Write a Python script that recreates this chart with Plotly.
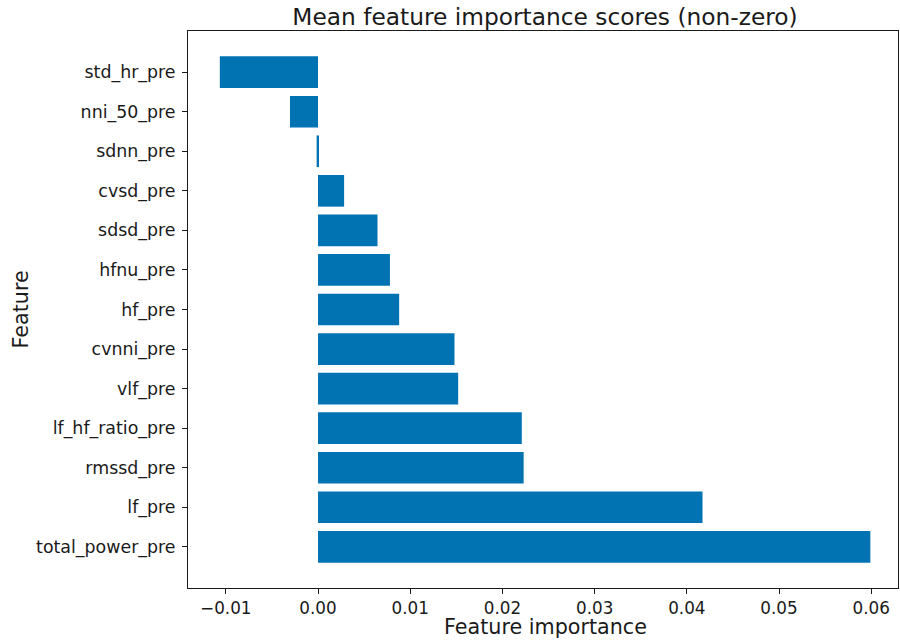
import plotly.graph_objects as go

features = ["total_power_pre", "lf_pre", "rmssd_pre", "lf_hf_ratio_pre", "vlf_pre",
            "cvnni_pre", "hf_pre", "hfnu_pre", "sdsd_pre", "cvsd_pre",
            "sdnn_pre", "nni_50_pre", "std_hr_pre"]
importance = [0.0599, 0.0417, 0.0223, 0.0221, 0.0152,
              0.0148, 0.0088, 0.0078, 0.00645, 0.00283,
              -0.00015, -0.00304, -0.01065]
x_ticks = [-0.01, 0.0, 0.01, 0.02, 0.03, 0.04, 0.05, 0.06]

FONT = "DejaVu Sans"
INK = "#1a1a1a"

W, H = 900, 644
L, R, T, B = 188, 2, 31, 56

fig = go.Figure()
fig.add_trace(go.Bar(
    x=importance, y=list(range(len(features))), orientation="h",
    width=0.8, marker=dict(color="#0173B2", line=dict(width=0)),
))

fig.update_layout(
    width=W, height=H,
    margin=dict(l=L, r=R, t=T, b=B),
    plot_bgcolor="white", paper_bgcolor="white",
    showlegend=False,
    font=dict(family=FONT, color=INK, size=17),
    title=dict(text="Mean feature importance scores (non-zero)",
               x=545 / W, xanchor="center",
               y=1 - 17 / H, yanchor="middle", automargin=False,
               font=dict(size=23.3, family=FONT, color=INK)),
    xaxis=dict(range=[-0.0141, 0.0629], tickvals=x_ticks, tickformat=".2f",
               showgrid=False, zeroline=False, automargin=False,
               showline=True, linecolor=INK, linewidth=1, mirror=True,
               ticks="outside", ticklen=5, tickcolor=INK, tickwidth=1,
               tickfont=dict(size=16.8)),
    yaxis=dict(range=[-1.04, 13.04], tickvals=list(range(len(features))), ticktext=features,
               showgrid=False, zeroline=False, automargin=False,
               showline=True, linecolor=INK, linewidth=1, mirror=True,
               ticks="outside", ticklen=5, tickcolor=INK, tickwidth=1,
               ticklabelstandoff=3,
               tickfont=dict(size=17.4)),
    annotations=[
        dict(text="Feature", xref="paper", yref="paper",
             x=0, xshift=-168, xanchor="center", y=0.5, yanchor="middle",
             textangle=-90,
             showarrow=False, font=dict(size=20.7, family=FONT, color=INK)),
        dict(text="Feature importance", xref="paper", yref="paper",
             x=(545 - L) / (W - L - R), xanchor="center", y=0, yshift=-39, yanchor="middle",
             showarrow=False, font=dict(size=20.7, family=FONT, color=INK)),
    ],
)

fig.write_html(
    "out.html",
    config={"displayModeBar": False},
    post_script="document.body.style.margin='0';document.body.style.overflow='hidden';",
)
